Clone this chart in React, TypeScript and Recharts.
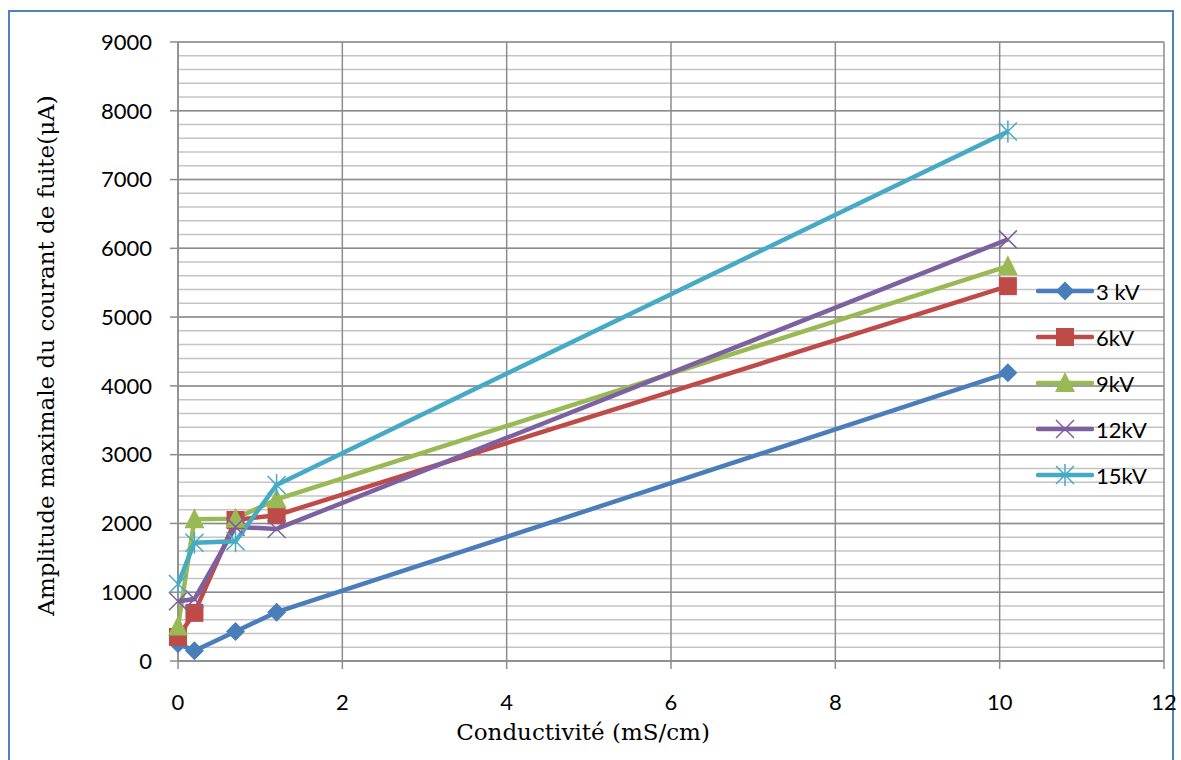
import { LineChart, Line, XAxis, YAxis, CartesianGrid, Legend } from "recharts";

const conductivity = [0, 0.2, 0.7, 1.2, 10.1];
const kv3 = [250, 150, 430, 710, 4190];
const kv6 = [350, 700, 2050, 2120, 5450];
const kv9 = [500, 2060, 2070, 2350, 5740];
const kv12 = [870, 900, 1950, 1920, 6130];
const kv15 = [1120, 1720, 1740, 2560, 7700];

const xTicks = [0, 2, 4, 6, 8, 10, 12];
const yTicks = [0, 1000, 2000, 3000, 4000, 5000, 6000, 7000, 8000, 9000];
const yMinorTicks = Array.from({ length: 46 }, (_, i) => i * 200);
const yMax = 9000;

const series = [
  { key: "kv3", name: "3 kV", color: "#4a7ebb", shape: "diamond", values: kv3 },
  { key: "kv6", name: "6kV", color: "#be4b48", shape: "square", values: kv6 },
  { key: "kv9", name: "9kV", color: "#98b954", shape: "triangle", values: kv9 },
  { key: "kv12", name: "12kV", color: "#7d60a0", shape: "cross", values: kv12 },
  { key: "kv15", name: "15kV", color: "#46aac5", shape: "star", values: kv15 },
];

const data = conductivity.map((x, i) => {
  const row: { [k: string]: number } = { x };
  series.forEach((s) => (row[s.key] = s.values[i]));
  return row;
});

const tickFont = "Lato, 'Open Sans', sans-serif";
const titleFont = "'DejaVu Serif', serif";

const Marker = ({ cx, cy, shape, color }: { cx: number; cy: number; shape: string; color: string }) => {
  if (shape === "diamond") {
    const r = 9.5;
    return <path d={`M${cx},${cy - r}L${cx + r},${cy}L${cx},${cy + r}L${cx - r},${cy}Z`} fill={color} />;
  }
  if (shape === "square") {
    const r = 9;
    return <rect x={cx - r} y={cy - r} width={2 * r} height={2 * r} fill={color} />;
  }
  if (shape === "triangle") {
    const r = 10;
    return <path d={`M${cx},${cy - r - 1}L${cx + r},${cy + r - 1}L${cx - r},${cy + r - 1}Z`} fill={color} />;
  }
  if (shape === "cross") {
    const r = 9;
    return (
      <path d={`M${cx - r},${cy - r}L${cx + r},${cy + r}M${cx - r},${cy + r}L${cx + r},${cy - r}`} stroke={color} strokeWidth={1.5} fill="none" />
    );
  }
  const r = 9;
  return (
    <path
      d={`M${cx - r},${cy - r}L${cx + r},${cy + r}M${cx - r},${cy + r}L${cx + r},${cy - r}M${cx},${cy - r - 2}L${cx},${cy + r + 2}`}
      stroke={color}
      strokeWidth={1.5}
      fill="none"
    />
  );
};

const LegendContent = () => (
  <div style={{ display: "flex", flexDirection: "column" }}>
    {series.map((s) => (
      <div key={s.key} style={{ display: "flex", alignItems: "center", height: 46 }}>
        <svg width={58} height={24}>
          <line x1={2} y1={12} x2={56} y2={12} stroke={s.color} strokeWidth={4.5} strokeLinecap="round" />
          <Marker cx={29} cy={12} shape={s.shape} color={s.color} />
        </svg>
        <span style={{ fontFamily: tickFont, fontSize: 22, color: "#000", marginLeft: 2 }}>{s.name}</span>
      </div>
    ))}
  </div>
);

// minor gridlines every 200, placed with the y scale when available
const minorGrid = (args: any) => {
  const { yAxis, offset } = args;
  return yMinorTicks.map((v) =>
    yAxis && typeof yAxis.scale === "function" ? yAxis.scale(v) : offset.top + offset.height * (1 - v / yMax)
  );
};

const App = () => {
  return (
    <div style={{ position: "absolute", left: 0, top: 0, width: 1181, height: 760, background: "#fff" }}>
      <div
        style={{
          position: "absolute",
          left: 8,
          top: 10,
          width: 1166,
          height: 760,
          border: "2px solid #4f81bd",
          boxSizing: "border-box",
        }}
      />
      <LineChart
        width={1181}
        height={760}
        data={data}
        margin={{ top: 42, right: 17, left: 78, bottom: 9 }}
        style={{ position: "absolute", left: 0, top: 0 }}
      >
        <CartesianGrid vertical={false} stroke="#c4c4c4" strokeWidth={1.5} horizontalCoordinatesGenerator={minorGrid} />
        <CartesianGrid stroke="#8c8c8c" strokeWidth={1.5} />
        <XAxis
          dataKey="x"
          type="number"
          domain={[0, 12]}
          ticks={xTicks}
          height={90}
          tickSize={8}
          tickMargin={25}
          axisLine={{ stroke: "#8c8c8c", strokeWidth: 1.5 }}
          tickLine={{ stroke: "#8c8c8c", strokeWidth: 1.5 }}
          tick={{ fill: "#000", fontSize: 22, fontFamily: tickFont }}
          label={{
            content: (p: any) => {
              const vb = p.viewBox;
              return (
                <text
                  x={vb.x + vb.width / 2 - 88}
                  y={732}
                  textAnchor="middle"
                  dominantBaseline="central"
                  fontFamily={titleFont}
                  fontSize={23}
                  fill="#000"
                >
                  Conductivité (mS/cm)
                </text>
              );
            },
          }}
        />
        <YAxis
          type="number"
          domain={[0, yMax]}
          ticks={yTicks}
          width={100}
          tickSize={8}
          tickMargin={18}
          interval={0}
          axisLine={{ stroke: "#8c8c8c", strokeWidth: 1.5 }}
          tickLine={{ stroke: "#8c8c8c", strokeWidth: 1.5 }}
          tick={{ fill: "#000", fontSize: 22, fontFamily: tickFont }}
          label={{
            content: (p: any) => {
              const vb = p.viewBox;
              const cx = 46;
              const cy = vb.y + vb.height / 2 + 4;
              return (
                <text
                  x={cx}
                  y={cy}
                  transform={`rotate(-90, ${cx}, ${cy})`}
                  textAnchor="middle"
                  dominantBaseline="central"
                  fontFamily={titleFont}
                  fontSize={23}
                  fill="#000"
                >
                  Amplitude maximale du courant de fuite(μA)
                </text>
              );
            },
          }}
        />
        <Legend
          layout="vertical"
          align="center"
          verticalAlign="middle"
          content={<LegendContent />}
          wrapperStyle={{ left: 1036, top: 268, width: 130 }}
        />
        {series.map((s) => (
          <Line
            key={s.key}
            dataKey={s.key}
            name={s.name}
            type="linear"
            stroke={s.color}
            strokeWidth={4.5}
            isAnimationActive={false}
            dot={(p: any) => <Marker key={`${s.key}-${p.index}`} cx={p.cx} cy={p.cy} shape={s.shape} color={s.color} />}
            activeDot={false}
          />
        ))}
      </LineChart>
    </div>
  );
};

export default App;
